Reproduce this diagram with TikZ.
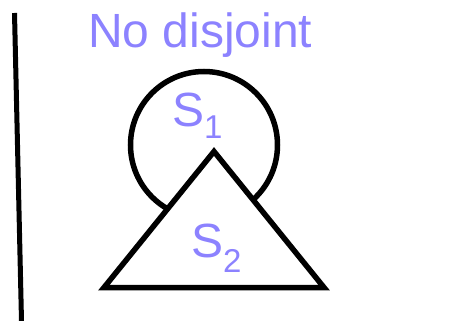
\documentclass[tikz,border=0pt]{standalone}
\usepackage{fontspec}
\setmainfont{Liberation Sans}
\definecolor{lav}{HTML}{8C82FF}
\begin{document}
\begin{tikzpicture}[x=1pt,y=-1pt,
  shapeline/.style={line width=5.5pt,draw=black},
  lbl/.style={text=lav,inner sep=0pt,anchor=base west,font=\fontsize{48}{48}\selectfont}]
\useasboundingbox (0,0) rectangle (456,321);
\draw[line width=5pt] (14.5,13) -- (21.5,321);
\node[lbl] (title) at (88,48) {No disjoint};
\draw[shapeline] (204,145) circle (73.5);
\draw[shapeline,fill=white] (214,151.5) -- (104,287.5) -- (324,287.5) -- cycle;
\node[lbl] (s1) at (172,127) {S\raisebox{-12pt}{\fontsize{33}{33}\selectfont 1}};
\node[lbl] (s2) at (191,258) {S\raisebox{-15pt}{\fontsize{33}{33}\selectfont 2}};
\end{tikzpicture}
\end{document}
